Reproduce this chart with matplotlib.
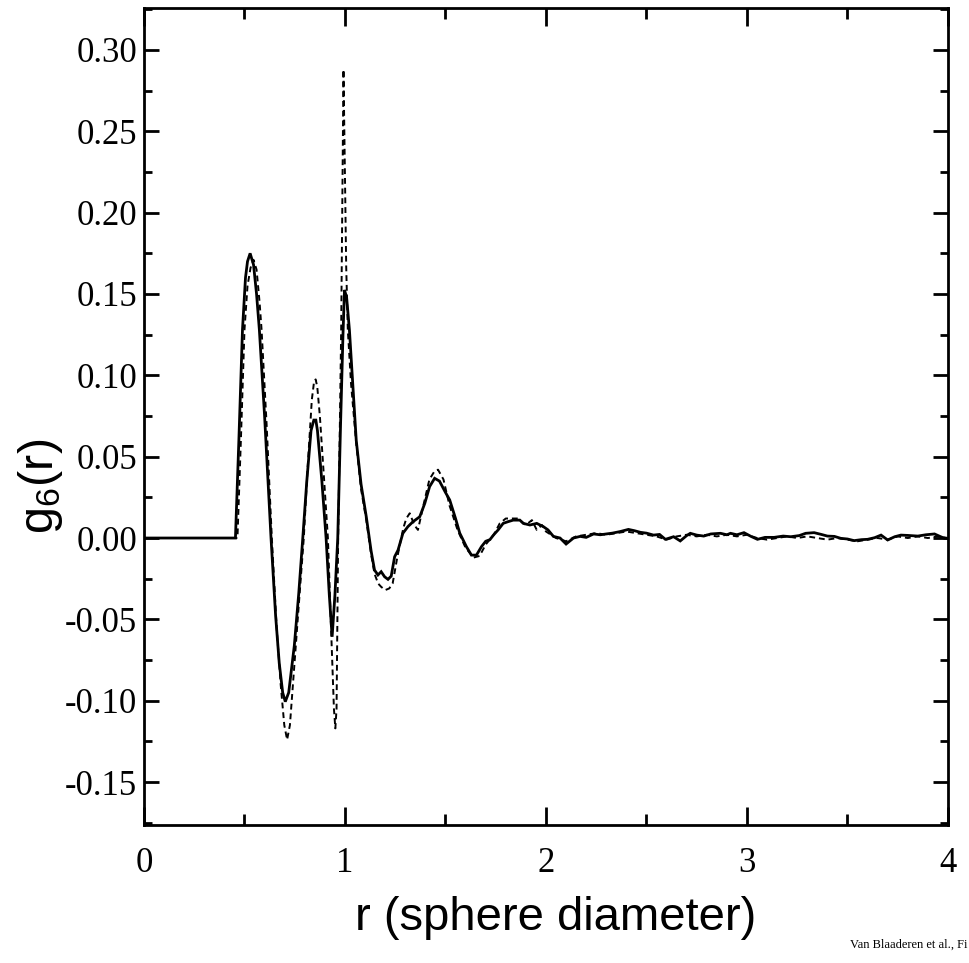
import matplotlib
matplotlib.use("Agg")
import matplotlib.pyplot as plt
from matplotlib.ticker import MultipleLocator, FixedFormatter, FixedLocator

# ---- data ----
r_solid = [0.0, 0.455, 0.472, 0.49, 0.505, 0.515, 0.528, 0.545, 0.56, 0.574, 0.60, 0.632,
           0.655, 0.673, 0.69, 0.703, 0.72, 0.748, 0.77, 0.79, 0.81, 0.831, 0.845, 0.855,
           0.863, 0.885, 0.906, 0.922, 0.936, 0.95, 0.964, 0.978, 0.99, 0.9975, 1.008,
           1.022, 1.04, 1.056, 1.08, 1.106, 1.13, 1.147, 1.164, 1.18, 1.197, 1.214, 1.23,
           1.247, 1.264, 1.288, 1.313, 1.338, 1.372, 1.397, 1.421, 1.446, 1.47, 1.50,
           1.521, 1.55, 1.571, 1.604, 1.629, 1.654, 1.679, 1.70, 1.721, 1.74, 1.762, 1.787,
           1.81, 1.837, 1.87, 1.887, 1.92, 1.954, 1.987, 2.01, 2.037, 2.07, 2.10, 2.137,
           2.17, 2.20, 2.237, 2.27, 2.30, 2.33, 2.37, 2.41, 2.44, 2.47, 2.50, 2.535,
           2.565, 2.594, 2.635, 2.668, 2.70, 2.718, 2.75, 2.785, 2.82, 2.868, 2.90, 2.918,
           2.95, 2.985, 3.02, 3.052, 3.09, 3.135, 3.18, 3.218, 3.26, 3.292, 3.334, 3.37,
           3.40, 3.435, 3.467, 3.50, 3.533, 3.57, 3.60, 3.635, 3.667, 3.70, 3.735, 3.766,
           3.80, 3.85, 3.89, 3.933, 3.96, 3.983, 4.0]
g_solid = [0.0, 0.0, 0.060, 0.128, 0.160, 0.170, 0.175, 0.168, 0.150, 0.128, 0.075, 0.0,
           -0.048, -0.077, -0.095, -0.1006, -0.095, -0.066, -0.034, 0.0, 0.035, 0.066, 0.0725, 0.0725,
           0.066, 0.035, 0.0, -0.035, -0.0607, -0.035, 0.0, 0.070, 0.125, 0.1525, 0.148,
           0.128, 0.092, 0.060, 0.033, 0.013, -0.008, -0.0197, -0.0227, -0.0207, -0.0238, -0.0254, -0.0234,
           -0.0115, -0.0074, 0.0029, 0.0070, 0.0100, 0.0131, 0.0213, 0.0316, 0.0367, 0.035, 0.028,
           0.0234, 0.012, 0.003, -0.0053, -0.0105, -0.0105, -0.0053, -0.002, -0.001, 0.002, 0.005, 0.009,
           0.010, 0.011, 0.011, 0.009, 0.008, 0.009, 0.007, 0.005, 0.001, 0.0, -0.0037, 0.0,
           0.001, 0.0004, 0.0025, 0.002, 0.0025, 0.003, 0.004, 0.0053, 0.0045, 0.0035, 0.003, 0.0018,
           0.0022, -0.0008, 0.0008, -0.0018, 0.0015, 0.0029, 0.0018, 0.0012, 0.0025, 0.0029, 0.0020, 0.0029,
           0.0020, 0.0033, 0.0010, -0.0008, 0.0004, 0.0004, 0.0012, 0.0008, 0.0015, 0.0029, 0.0033, 0.0022,
           0.0012, 0.0010, -0.0002, -0.0006, -0.0016, -0.0010, -0.0008, 0.0002, 0.0018, -0.0012, 0.0008, 0.0018,
           0.0016, 0.0012, 0.0020, 0.0025, 0.0010, -0.0002, -0.0002]

r_dashed = [0.0, 0.465, 0.482, 0.50, 0.515, 0.53, 0.545, 0.56, 0.575, 0.585, 0.61, 0.636,
            0.66, 0.68, 0.698, 0.712, 0.726, 0.75, 0.772, 0.795, 0.815, 0.835, 0.846, 0.854,
            0.862, 0.875, 0.895, 0.915, 0.932, 0.945, 0.952, 0.958, 0.966, 0.974, 0.981, 0.987,
            0.9925, 0.999, 1.006, 1.014, 1.03, 1.056, 1.08, 1.106, 1.13, 1.147, 1.165, 1.18,
            1.20, 1.22, 1.237, 1.26, 1.29, 1.305, 1.322, 1.345, 1.363, 1.39, 1.42, 1.445,
            1.463, 1.49, 1.52, 1.56, 1.60, 1.64, 1.67, 1.70, 1.74, 1.77, 1.80, 1.82,
            1.86, 1.90, 1.93, 1.954, 1.98, 2.0, 2.05, 2.10, 2.15, 2.20, 2.25, 2.30,
            2.35, 2.40, 2.45, 2.50, 2.55, 2.60, 2.65, 2.70, 2.75, 2.80, 2.85, 2.90,
            2.95, 3.00, 3.05, 3.10, 3.15, 3.20, 3.25, 3.30, 3.35, 3.40, 3.45, 3.50,
            3.55, 3.60, 3.65, 3.70, 3.75, 3.80, 3.85, 3.90, 3.95, 4.0]
g_dashed = [0.0, 0.0, 0.060, 0.128, 0.155, 0.166, 0.171, 0.165, 0.145, 0.128, 0.070, 0.0,
            -0.055, -0.090, -0.115, -0.124, -0.115, -0.075, -0.038, 0.0, 0.045, 0.085, 0.096, 0.0975,
            0.093, 0.075, 0.038, 0.0, -0.060, -0.105, -0.117, -0.105, 0.0, 0.065, 0.128, 0.210,
            0.288, 0.230, 0.167, 0.128, 0.095, 0.058, 0.030, 0.011, -0.010, -0.022, -0.028, -0.030,
            -0.032, -0.031, -0.028, -0.012, 0.006, 0.012, 0.0152, 0.008, 0.005, 0.020, 0.036, 0.041,
            0.042, 0.036, 0.020, 0.005, -0.006, -0.012, -0.011, -0.004, 0.002, 0.009, 0.012, 0.012,
            0.012, 0.008, 0.011, 0.005, 0.008, 0.004, 0.0, -0.002, 0.001, 0.002, 0.003, 0.002,
            0.003, 0.004, 0.003, 0.002, 0.001, -0.001, 0.001, 0.002, 0.001, 0.002, 0.001, 0.002,
            0.001, 0.002, 0.0, -0.001, 0.0, 0.001, 0.0, 0.001, 0.0, -0.001, 0.0, -0.001,
            -0.002, -0.001, 0.0, -0.001, 0.001, 0.0, 0.001, 0.0, 0.001, 0.0]

xtick_vals = [0, 1, 2, 3, 4]
xtick_labels = ["0", "1", "2", "3", "4"]
ytick_vals = [-0.15, -0.10, -0.05, 0.00, 0.05, 0.10, 0.15, 0.20, 0.25, 0.30]
ytick_labels = ["-0.15", "-0.10", "-0.05", "0.00", "0.05", "0.10", "0.15", "0.20", "0.25", "0.30"]

plt.rcParams['mathtext.fontset'] = 'custom'
plt.rcParams['mathtext.rm'] = 'Liberation Sans'
plt.rcParams['mathtext.it'] = 'Liberation Sans'

fig = plt.figure(figsize=(9.69, 9.63), dpi=100)
ax = fig.add_axes([0.1486, 0.1433, 0.8297, 0.8484])

ax.plot(r_solid, g_solid, color='black', lw=2.0, solid_joinstyle='miter')
ax.plot(r_dashed, g_dashed, color='black', lw=1.4, linestyle=(0, (3, 2)))

ax.set_xlim(0, 4)
ax.set_ylim(-0.1764, 0.3258)

ax.xaxis.set_major_locator(FixedLocator(xtick_vals))
ax.xaxis.set_major_formatter(FixedFormatter(xtick_labels))
ax.xaxis.set_minor_locator(MultipleLocator(0.5))
ax.yaxis.set_major_locator(FixedLocator(ytick_vals))
ax.yaxis.set_major_formatter(FixedFormatter(ytick_labels))
ax.yaxis.set_minor_locator(MultipleLocator(0.025))

ax.tick_params(which='both', direction='in', top=True, right=True, width=2, color='black')
ax.tick_params(axis='x', which='major', length=13, pad=16)
ax.tick_params(axis='x', which='minor', length=8)
ax.tick_params(axis='y', which='major', length=11, pad=5)
ax.tick_params(axis='y', which='minor', length=6)
for lab in ax.get_xticklabels() + ax.get_yticklabels():
    lab.set_fontfamily('Liberation Serif')
    lab.set_fontsize(25)

for sp in ax.spines.values():
    sp.set_linewidth(2)

fig.text(0.573, 0.047, "r (sphere diameter)", fontsize=34, family='Liberation Sans',
         ha='center', va='center')
fig.text(0.042, 0.495, r"g$_6$(r)", fontsize=35, family='Liberation Sans',
         ha='center', va='center', rotation=90)
fig.text(0.998, 0.019, "Van Blaaderen et al., Fi", fontsize=9, family='Liberation Serif',
         ha='right', va='center')

fig.savefig("out.png", dpi=100)
